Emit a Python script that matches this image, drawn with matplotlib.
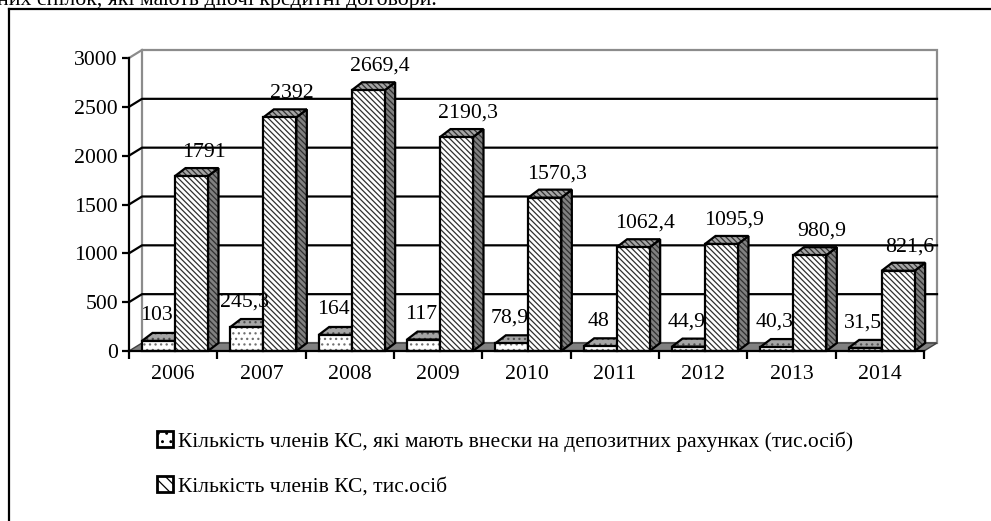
import matplotlib.pyplot as plt
from matplotlib.patches import Polygon, Rectangle
from matplotlib.lines import Line2D

years = ["2006", "2007", "2008", "2009", "2010", "2011", "2012", "2013", "2014"]
deposit_members = [103, 245.3, 164, 117, 78.9, 48, 44.9, 40.3, 31.5]
total_members = [1791, 2392, 2669.4, 2190.3, 1570.3, 1062.4, 1095.9, 980.9, 821.6]
series_names = [
    "Кількість членів КС, які мають внески на депозитних рахунках (тис.осіб)",
    "Кількість членів КС, тис.осіб",
]
y_ticks = [0, 500, 1000, 1500, 2000, 2500, 3000]
top_line = "них спілок, які мають діючі кредитні договори."

plt.rcParams['font.family'] = ['Liberation Serif', 'DejaVu Serif']
plt.rcParams['font.size'] = 15.7
plt.rcParams['hatch.linewidth'] = 0.9

W, H = 991, 521
fig = plt.figure(figsize=(W / 100, H / 100), dpi=100)
ax = fig.add_axes([129 / W, (H - 351) / H, 795 / W, 293 / H])
n = len(years)
ax.set_xlim(0, n)
ax.set_ylim(0, 3000)

# size of one pixel in data units, used for the fake 3d depth
px_x = n / 795
px_y = 3000 / 293
wall_dx, wall_dy = 13 * px_x, 8 * px_y
bar_dx, bar_dy = 10.5 * px_x, 8 * px_y
gap = 13 * px_x
bar_w = 33 * px_x

# back wall, left wall lines, floor
ax.add_patch(Rectangle((wall_dx, wall_dy), n, 3000, facecolor='white',
                       edgecolor='#8c8c8c', lw=1.6, zorder=1, clip_on=False))
for v in y_ticks[1:-1]:
    ax.add_line(Line2D([0, wall_dx, n + wall_dx], [v, v + wall_dy, v + wall_dy],
                       color='black', lw=1.6, zorder=2, clip_on=False))
ax.add_line(Line2D([0, wall_dx], [3000, 3000 + wall_dy], color='#8c8c8c',
                   lw=1.6, zorder=2, clip_on=False))
ax.add_patch(Polygon([(0, 0), (n, 0), (n + wall_dx, wall_dy), (wall_dx, wall_dy)],
                     closed=True, facecolor='#808080', edgecolor='#404040',
                     lw=1, zorder=3, clip_on=False))


def face(pts, fc, hc, hatch, z):
    ax.add_patch(Polygon(pts, closed=True, facecolor=fc, edgecolor=hc, lw=0,
                         hatch=hatch, zorder=z, clip_on=False))
    ax.add_patch(Polygon(pts, closed=True, fill=False, edgecolor='black',
                         lw=1.6, zorder=z, clip_on=False, joinstyle='miter'))


def bar3d(x0, h, hatch, colors, z):
    x1 = x0 + bar_w
    front = [(x0, 0), (x1, 0), (x1, h), (x0, h)]
    top = [(x0, h), (x1, h), (x1 + bar_dx, h + bar_dy), (x0 + bar_dx, h + bar_dy)]
    side = [(x1, 0), (x1 + bar_dx, bar_dy), (x1 + bar_dx, h + bar_dy), (x1, h)]
    face(side, colors[2][0], colors[2][1], hatch, z)
    face(top, colors[1][0], colors[1][1], hatch, z)
    face(front, colors[0][0], colors[0][1], hatch, z)


dot_colors = [('white', '#707070'), ('#a6a6a6', '#505050'), ('#808080', '#404040')]
line_colors = [('white', '#303030'), ('#a6a6a6', '#303030'), ('#808080', '#303030')]

for i in range(n):
    bar3d(i + gap, deposit_members[i], '...', dot_colors, 4 + 2 * i)
    bar3d(i + gap + bar_w, total_members[i], '\\' * 6, line_colors, 5 + 2 * i)


def fmt(v):
    return f"{v:g}".replace('.', ',')


for i in range(n):
    x1 = i + gap + bar_w / 2
    x2 = i + gap + bar_w * 1.5
    ax.text(x1 - 2 * px_x, deposit_members[i] + 25 * px_y, fmt(deposit_members[i]),
            ha='center', va='center', zorder=30, clip_on=False)
    ax.text(x2 + 12 * px_x, total_members[i] + 24 * px_y, fmt(total_members[i]),
            ha='center', va='center', zorder=30, clip_on=False)

# axes
for s in ['top', 'right']:
    ax.spines[s].set_visible(False)
for s in ['left', 'bottom']:
    ax.spines[s].set_linewidth(1.6)
    ax.spines[s].set_zorder(40)
ax.patch.set_visible(False)
ax.set_yticks(y_ticks)
ax.tick_params(axis='y', direction='out', length=5, width=1.6, pad=3)
ax.set_xticks(range(n + 1))
ax.set_xticklabels([])
ax.set_xticks([i + 0.5 for i in range(n)], minor=True)
ax.set_xticklabels(years, minor=True)
ax.tick_params(axis='x', which='major', direction='out', length=6, width=1.6)
ax.tick_params(axis='x', which='minor', length=0, pad=10)

# legend
handles = [
    Rectangle((0, 0), 1, 1, facecolor='white', edgecolor='black', lw=2, hatch='..'),
    Rectangle((0, 0), 1, 1, facecolor='white', edgecolor='black', lw=2, hatch='\\\\\\'),
]
fig.legend(handles, series_names, loc='upper left', bbox_to_anchor=(157 / W, 1 - 431 / H),
           frameon=False, handlelength=0.76, handleheight=0.76, handletextpad=0.2,
           labelspacing=1.15, borderpad=0, borderaxespad=0, fontsize=15.5)

# outer frame and clipped text line above
fig.add_artist(Line2D([8.5 / W, 8.5 / W], [0, 1 - 9 / H], color='black', lw=1.6))
fig.add_artist(Line2D([8.5 / W, 1], [1 - 9 / H, 1 - 9 / H], color='black', lw=1.6))
fig.text(-3 / W, 1 - 4.5 / H, top_line, ha='left', va='baseline', fontsize=15.7)

fig.savefig("out.png", dpi=100)
